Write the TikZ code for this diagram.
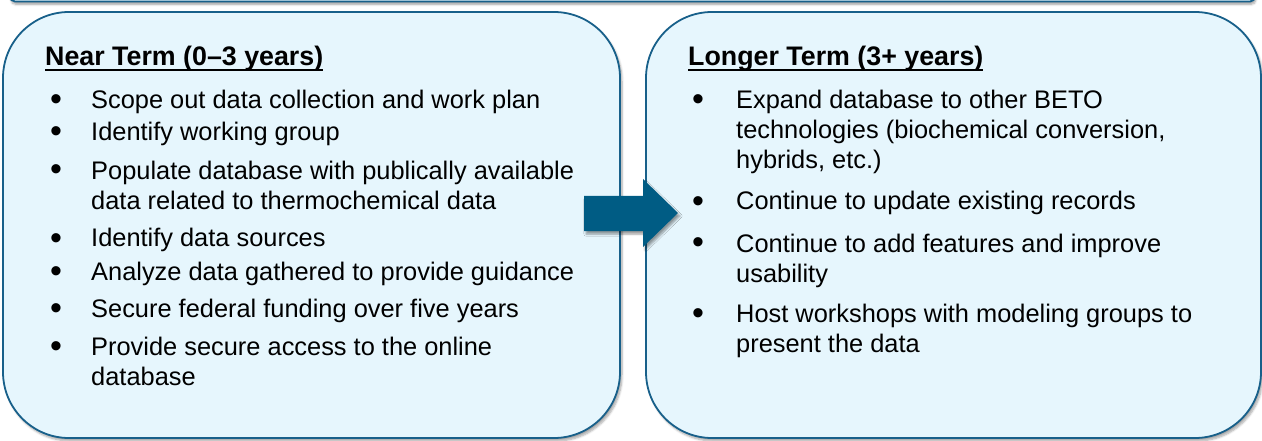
\documentclass[tikz,border=0pt]{standalone}
\usepackage{fontspec}
\setmainfont{Liberation Sans}
\usetikzlibrary{shadows.blur}
\definecolor{edgeblue}{RGB}{24,96,138}
\definecolor{arrowblue}{RGB}{0,92,132}
\definecolor{panelfill}{RGB}{230,246,253}
\newcommand\ulbox[1]{\setbox0=\hbox{#1}\rlap{\rule[-5pt]{\wd0}{2pt}}\box0}
\newcommand\itemlines[1]{\parbox[t]{540pt}{\raggedright #1}}
\tikzset{
  panel/.style={draw=edgeblue, line width=1.8pt, fill=panelfill, rounded corners=66pt,
    blur shadow={shadow xshift=2pt, shadow yshift=-3pt, shadow blur steps=6, shadow opacity=35}},
  topbar/.style={draw=edgeblue, line width=1.8pt, fill=panelfill, rounded corners=5pt,
    blur shadow={shadow xshift=1pt, shadow yshift=-3pt, shadow blur steps=5, shadow opacity=35}},
  txt/.style={inner sep=0pt, anchor=base west, font=\fontsize{25.4}{30}\selectfont},
  head/.style={inner sep=0pt, anchor=base west, font=\fontsize{26.8}{30}\selectfont\bfseries},
  bul/.style={inner sep=0pt, anchor=base, font=\fontsize{34}{30}\selectfont},
  bigarrow/.style={fill=arrowblue, draw=none,
    blur shadow={shadow xshift=2pt, shadow yshift=-3pt, shadow blur steps=5, shadow opacity=40}}
}
\begin{document}
\begin{tikzpicture}[x=1pt,y=-1pt]
\useasboundingbox (0,0) rectangle (1262,441);
\clip (0,0) rectangle (1262,441);
% top bar (cut off)
\draw[topbar] (10,-40) rectangle (1255,1.5);
% panels
\draw[panel] (3,12) rectangle (620,438);
\coordinate (nearR) at (620,213);
\draw[panel] (646,12) rectangle (1261,438);
\coordinate (farL) at (646,213);
% headings
\node[head] (nh) at (45,66) {\ulbox{Near Term (0–3 years)}};
\node[head] (lh) at (688,66) {\ulbox{Longer Term (3+ years)}};
% left items
\foreach \y/\n in {111/1,143/2,181/3,249/4,282/5,319/6,357/7}{
  \node[bul] (lb\n) at (56,\y) {•};
}
\node[txt] (l1) at (91,109) {\itemlines{Scope out data collection and work plan}};
\node[txt] (l2) at (91,141) {\itemlines{Identify working group}};
\node[txt] (l3) at (91,179) {\itemlines{Populate database with publically available\\data related to thermochemical data}};
\node[txt] (l4) at (91,247) {\itemlines{Identify data sources}};
\node[txt] (l5) at (91,280) {\itemlines{Analyze data gathered to provide guidance}};
\node[txt] (l6) at (91,317) {\itemlines{Secure federal funding over five years}};
\node[txt] (l7) at (91,355) {\itemlines{Provide secure access to the online\\database}};
% right items
\foreach \y/\n in {111/1,212/2,254/3,324/4}{
  \node[bul] (rb\n) at (698,\y) {•};
}
\node[txt] (r1) at (736,109) {\itemlines{Expand database to other BETO\\technologies (biochemical conversion,\\hybrids, etc.)}};
\node[txt] (r2) at (736,210) {\itemlines{Continue to update existing records}};
\node[txt] (r3) at (736,252) {\itemlines{Continue to add features and improve\\usability}};
\node[txt] (r4) at (736,322) {\itemlines{Host workshops with modeling groups to\\present the data}};
% arrow
\fill[bigarrow] (584,196) -- (643,196) -- (643,179) -- (678,213) -- (643,247) -- (643,231) -- (584,231) -- cycle;
\end{tikzpicture}
\end{document}
